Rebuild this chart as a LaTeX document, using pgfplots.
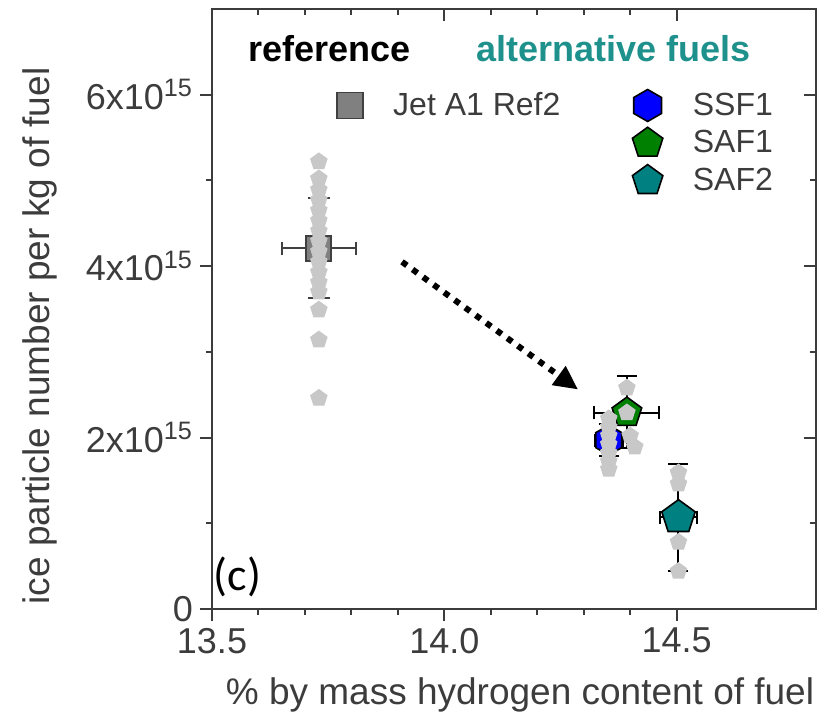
\documentclass[border=0pt]{standalone}
\usepackage{fontspec}
\setmainfont{Liberation Sans}
\newfontfamily\carlito{Carlito}
\usepackage{pgfplots}
\pgfplotsset{compat=1.18}
\usetikzlibrary{arrows.meta,plotmarks}

\definecolor{ptgray}{RGB}{200,200,200}
\definecolor{jetfill}{RGB}{128,128,128}
\definecolor{jetedge}{RGB}{64,64,64}
\definecolor{ssfone}{RGB}{0,0,255}
\definecolor{safone}{RGB}{0,128,0}
\definecolor{saftwo}{RGB}{0,128,128}
\definecolor{alttext}{RGB}{30,145,140}
\definecolor{axgray}{RGB}{60,60,60}

% hexagon mark, pointy top
\pgfdeclareplotmark{hexagon*}{%
  \pgfpathmoveto{\pgfqpointpolar{90}{\pgfplotmarksize}}%
  \pgfpathlineto{\pgfqpointpolar{150}{\pgfplotmarksize}}%
  \pgfpathlineto{\pgfqpointpolar{210}{\pgfplotmarksize}}%
  \pgfpathlineto{\pgfqpointpolar{270}{\pgfplotmarksize}}%
  \pgfpathlineto{\pgfqpointpolar{330}{\pgfplotmarksize}}%
  \pgfpathlineto{\pgfqpointpolar{30}{\pgfplotmarksize}}%
  \pgfpathclose
  \pgfusepathqfillstroke}

\pgfplotsset{
  frame/.style={
    width=302pt, height=300pt, scale only axis,
    xmin=13.5, xmax=14.8, ymin=0, ymax=7,
    xtick={13.5,14,14.5}, ytick={0,2,4,6},
    minor x tick num=4, minor y tick num=1,
    axis line style={axgray, line width=1pt},
    tick style={axgray, line width=1pt},
    major tick length=6pt, minor tick length=3pt,
  },
}

\begin{document}
\begin{tikzpicture}
% frame with ticks inside on top and right
\begin{axis}[frame, tick pos=right, tick align=inside,
  xticklabels={}, yticklabels={}]
\end{axis}

\begin{axis}[frame, name=ax, tick pos=left, tick align=outside,
  xticklabels={13.5,14.0,14.5},
  yticklabels={0,2x10\textsuperscript{15},4x10\textsuperscript{15},6x10\textsuperscript{15}},
  ticklabel style={font=\fontsize{18}{20}\selectfont, text=axgray},
  xlabel={\% by mass hydrogen content of fuel},
  ylabel={ice particle number per kg of fuel},
  label style={font=\fontsize{18.5}{21}\selectfont, text=axgray},
  xlabel style={at={(axis description cs:0.51,-0.16)}, anchor=base},
  ylabel style={at={(axis description cs:-0.285,0.455)}, anchor=center},
  legend columns=2, legend cell align=left,
  legend style={draw=none, fill=none, at={(rel axis cs:0.19,0.875)},
    anchor=north west, font=\fontsize{16}{18}\selectfont, text=axgray,
    row sep=2pt,
    /tikz/every odd column/.append style={column sep=13pt},
    /tikz/every even column/.append style={column sep=34pt}},
]
\addlegendimage{only marks, mark=square*, mark size=6.5pt,
  mark options={fill=jetfill, draw=jetedge, line width=0.8pt}}
\addlegendentry{Jet A1 Ref2}
\addlegendimage{only marks, mark=hexagon*, mark size=8pt,
  mark options={fill=ssfone, draw=black, line width=0.8pt}}
\addlegendentry{SSF1}
\addlegendimage{empty legend}\addlegendentry{}
\addlegendimage{only marks, mark=pentagon*, mark size=8pt,
  mark options={fill=safone, draw=black, line width=0.8pt}}
\addlegendentry{SAF1}
\addlegendimage{empty legend}\addlegendentry{}
\addlegendimage{only marks, mark=pentagon*, mark size=8pt,
  mark options={fill=saftwo, draw=black, line width=0.8pt}}
\addlegendentry{SAF2}

% Jet A1 Ref2: error bars then square
\addplot[forget plot, only marks, mark=*, mark size=0.5pt,
  mark options={fill=jetedge, draw=jetedge},
  error bars/.cd, x dir=both, x explicit, error mark=|,
  error bar style={jetedge, line width=1pt},
  error mark options={jetedge, line width=1pt, mark size=3.3pt}]
  coordinates {(13.73,4.21) +- (0.08,0)};
\addplot[forget plot, only marks, mark=*, mark size=0.5pt,
  mark options={fill=jetedge, draw=jetedge},
  error bars/.cd, y dir=both, y explicit, error mark=|,
  error bar style={jetedge, line width=1pt},
  error mark options={jetedge, line width=1pt, mark size=5.5pt}]
  coordinates {(13.73,4.21) +- (0,0.585)};
\addplot[forget plot, only marks, mark=square*, mark size=6.2pt,
  mark options={fill=jetfill, draw=jetedge, line width=1pt}]
  coordinates {(13.73,4.21)};

% alternative fuels: error bars
\addplot[forget plot, only marks, mark=*, mark size=0.5pt,
  mark options={fill=black, draw=black},
  error bars/.cd, x dir=both, x explicit, error mark=|,
  error bar style={black, line width=1pt},
  error mark options={black, line width=1pt, mark size=3.3pt}]
  coordinates {(14.354,1.97) +- (0.03,0) (14.393,2.29) +- (0.07,0) (14.504,1.07) +- (0.04,0)};
\addplot[forget plot, only marks, mark=*, mark size=0.5pt,
  mark options={fill=black, draw=black},
  error bars/.cd, y dir=both, y explicit, error mark=|,
  error bar style={black, line width=1pt},
  error mark options={black, line width=1pt, mark size=5pt}]
  coordinates {(14.354,1.97) +- (0,0.19) (14.393,2.30) +- (0,0.42) (14.504,1.065) +- (0,0.625)};

\addplot[forget plot, only marks, mark=hexagon*, mark size=7.5pt,
  mark options={fill=ssfone, draw=black, line width=0.8pt}]
  coordinates {(14.354,1.97)};
\addplot[forget plot, only marks, mark=pentagon*, mark size=7.8pt,
  mark options={fill=safone, draw=black, line width=0.8pt}]
  coordinates {(14.393,2.29)};

% individual measurements (light grey)
\addplot[forget plot, only marks, mark=pentagon*, mark size=4.3pt,
  mark options={fill=ptgray, draw=ptgray, line width=0.5pt}]
  coordinates {
  (13.73,5.22) (13.73,5.02) (13.73,4.89) (13.73,4.77) (13.73,4.65)
  (13.73,4.53) (13.73,4.41) (13.73,4.29) (13.73,4.17) (13.73,4.05)
  (13.73,3.93) (13.73,3.81) (13.73,3.70) (13.73,3.49) (13.73,3.14)
  (13.73,2.46)
  (14.354,2.22) (14.354,2.12) (14.354,2.02) (14.354,1.92) (14.354,1.82)
  (14.354,1.72) (14.354,1.63)
  (14.393,2.58) (14.393,2.29) (14.40,2.02) (14.41,1.89)
  (14.504,1.59) (14.504,1.46) (14.504,0.78) (14.504,0.44)
  };

\addplot[forget plot, only marks, mark=pentagon*, mark size=8.8pt,
  mark options={fill=saftwo, draw=black, line width=0.8pt}]
  coordinates {(14.504,1.07)};

% annotations
\draw[line width=3pt, dash pattern=on 3pt off 3.5pt,
  -{Triangle[length=12pt,width=11pt]}]
  (axis cs:13.909,4.05) -- (axis cs:14.288,2.56);
\node[anchor=base west, inner sep=0, font=\bfseries\fontsize{18}{20}\selectfont]
  at (rel axis cs:0.06,0.912) {reference};
\node[anchor=base west, inner sep=0, text=alttext, font=\bfseries\fontsize{18}{20}\selectfont]
  at (rel axis cs:0.437,0.912) {alternative fuels};
\node[anchor=base west, inner sep=0, font=\carlito\fontsize{23}{25}\selectfont]
  at (rel axis cs:0.002,0.03) {(c)};
\end{axis}

\pgfresetboundingbox
\path[use as bounding box] ([shift={(-106pt,-54.5pt)}]ax.south west)
  rectangle ([shift={(7.5pt,4.5pt)}]ax.north east);
\end{tikzpicture}
\end{document}
